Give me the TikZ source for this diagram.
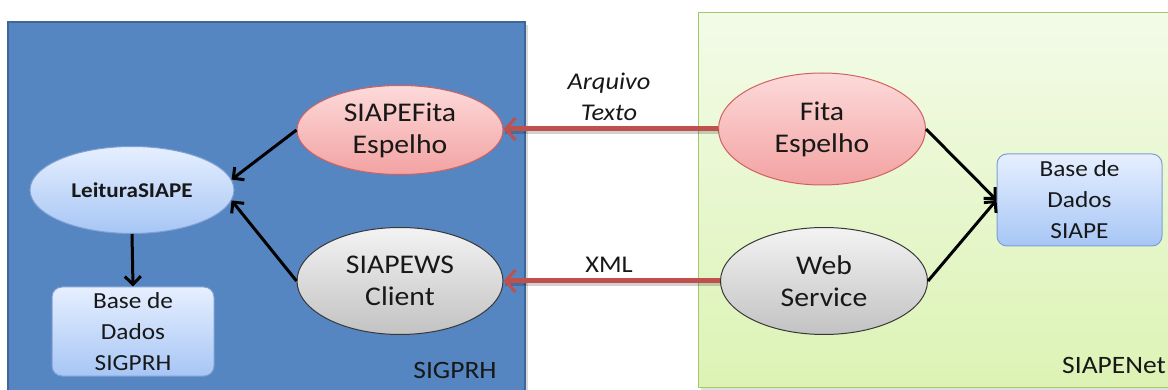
\documentclass[tikz,border=0pt]{standalone}
\usepackage{fontspec}
\setmainfont{Carlito}[FakeStretch=1.1]
\usetikzlibrary{shapes.geometric,arrows.meta}
\definecolor{bluebox}{HTML}{5586C1}
\definecolor{blueboxborder}{HTML}{3E6698}
\definecolor{greentop}{HTML}{F3FBE8}
\definecolor{greenbot}{HTML}{DCF3B4}
\definecolor{greenborder}{HTML}{A5C66A}
\definecolor{redtop}{HTML}{FDDADA}
\definecolor{redbot}{HTML}{F3A2A2}
\definecolor{redborder}{HTML}{D06262}
\definecolor{graytop}{HTML}{F3F3F3}
\definecolor{graybot}{HTML}{C2C2C2}
\definecolor{grayborder}{HTML}{383838}
\definecolor{bluetop}{HTML}{E6EFFF}
\definecolor{bluebot}{HTML}{A7C6F5}
\definecolor{blueborder}{HTML}{7E9FD2}
\definecolor{redarrow}{HTML}{C0504D}
\definecolor{textdark}{HTML}{181818}
\begin{document}
\begin{tikzpicture}[x=1pt,y=-1pt,
  bigfont/.style={font=\fontsize{27}{32}\selectfont},
  ellbase/.style={ellipse, line width=1pt, inner sep=0pt, align=center, text=textdark, bigfont},
  redell/.style={ellbase, draw=redborder, top color=redtop, bottom color=redbot},
  grayell/.style={ellbase, draw=grayborder, top color=graytop, bottom color=graybot},
  blueell/.style={ellbase, draw=blueborder, top color=bluetop, bottom color=bluebot},
  dbbox/.style={rectangle, rounded corners=10pt, line width=1pt, draw=blueborder, top color=bluetop, bottom color=bluebot, align=center, text=textdark, inner sep=0pt, font=\fontsize{23}{31}\selectfont},
  blackarrow/.style={line width=3pt, -{Straight Barb[length=8pt,width=16pt,line width=3pt]}, black},
  redarr/.style={line width=5pt, -{Straight Barb[length=10pt,width=22pt,line width=3pt]}, redarrow},
  redshadow/.style={line width=5pt, black, opacity=0.18},
  lbl/.style={text=textdark, align=center, inner sep=0pt, font=\fontsize{24}{31}\selectfont},
  boxlbl/.style={text=textdark, inner sep=0pt, font=\fontsize{25}{28}\selectfont}
]
\useasboundingbox (0,0) rectangle (1168,390);
% containers
\fill[black,opacity=0.15] (11,25) rectangle (528,398);
\draw[line width=1.5pt, draw=blueboxborder, fill=bluebox] (8,22) rectangle (525,398);
\fill[black,opacity=0.12] (701,16) rectangle (1180,390);
\draw[line width=1pt, draw=greenborder, top color=greentop, bottom color=greenbot] (698,13) rectangle (1180,387);
\node[boxlbl] (sigprhlbl) at (455,370) {SIGPRH};
\node[boxlbl, anchor=east] (siapenetlbl) at (1166,365) {SIAPENet};
% nodes
\node[blueell, minimum width=204pt, minimum height=87pt, font=\fontsize{21}{25}\selectfont\bfseries] (lei) at (132,190) {LeituraSIAPE};
\node[dbbox, minimum width=162pt, minimum height=89pt] (bsig) at (133,331.5) {Base de\\Dados\\SIGPRH};
\node[redell, minimum width=206pt, minimum height=89pt] (sf) at (400,130) {SIAPEFita\\Espelho};
\node[grayell, minimum width=206pt, minimum height=107pt] (sw) at (400,281) {SIAPEWS\\Client};
\node[redell, minimum width=207pt, minimum height=112pt] (fe) at (822,129) {Fita\\Espelho};
\node[grayell, minimum width=207pt, minimum height=107pt] (ws) at (824,281) {Web\\Service};
\node[dbbox, minimum width=165pt, minimum height=92pt] (bsiape) at (1079.5,200) {Base de\\Dados\\SIAPE};
% labels
\node[lbl, font=\fontsize{24}{31}\selectfont\itshape] (arq) at (609,97) {Arquivo\\Texto};
\node[lbl] (xml) at (609,265) {XML};
% red arrows with shadow
\coordinate (sfend) at (fe.west -| sf.east);
\coordinate (swend) at (ws.west -| sw.east);
\draw[redshadow] ([shift={(1,3)}]fe.west) -- ([shift={(1,3)}]sfend);
\draw[redshadow] ([shift={(1,3)}]ws.west) -- ([shift={(1,3)}]swend);
\draw[redarr] (fe.west) -- (sfend);
\draw[redarr] (ws.west) -- (swend);
% black arrows
\draw[blackarrow] (sf.west) -- (lei.6);
\draw[blackarrow] (sw.west) -- (lei.-6);
\draw[blackarrow] (lei.south) -- (bsig.north);
\draw[blackarrow] (fe.east) -- (bsiape.west);
\draw[blackarrow] (ws.east) -- (bsiape.west);
\end{tikzpicture}
\end{document}
